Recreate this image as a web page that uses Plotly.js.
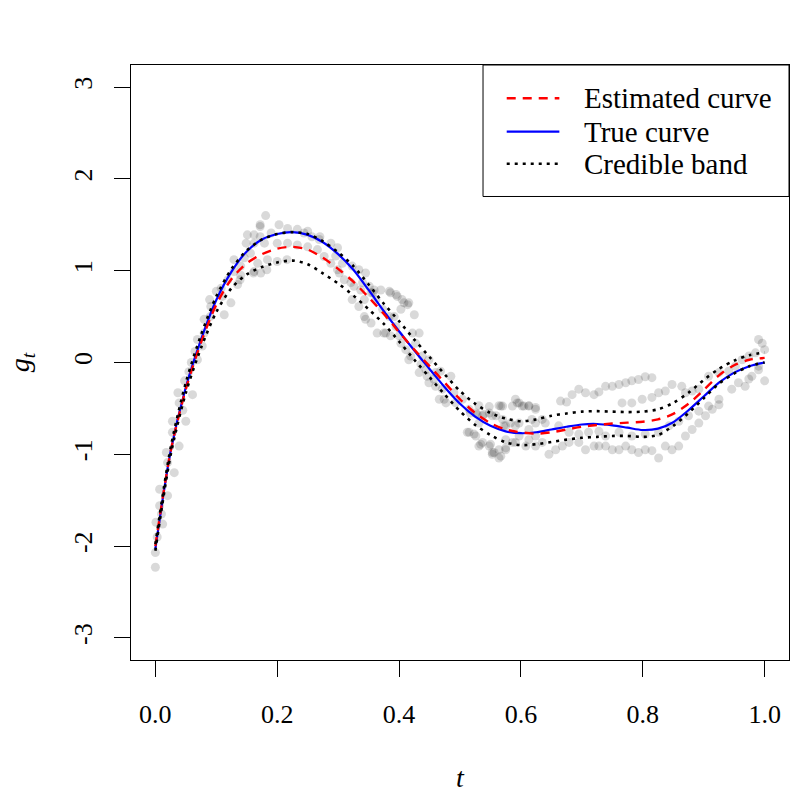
<!DOCTYPE html>
<html>
<head>
<meta charset="utf-8">
<script src="https://cdn.plot.ly/plotly-3.0.1.min.js"></script>
<style>
  body { margin: 0; background: #fff; }
  #chart { width: 793px; height: 793px; }
</style>
</head>
<body>
<div id="chart"></div>
<script>
// grid on which the curves were evaluated
let tGrid = [0, 0.025, 0.05, 0.075, 0.1, 0.125, 0.15, 0.175, 0.2, 0.225,
  0.25, 0.275, 0.3, 0.325, 0.35, 0.375, 0.4, 0.425, 0.45, 0.475,
  0.5, 0.525, 0.55, 0.575, 0.6, 0.625, 0.65, 0.675, 0.7, 0.725,
  0.75, 0.775, 0.8, 0.825, 0.85, 0.875, 0.9, 0.925, 0.95, 0.975, 1];

let trueCurve = [-2.03, -0.97, -0.27, 0.25, 0.68, 0.99, 1.21, 1.34, 1.40, 1.42,
  1.39, 1.31, 1.18, 1.01, 0.79, 0.56, 0.34, 0.13, -0.07, -0.27,
  -0.45, -0.59, -0.69, -0.75, -0.77, -0.76, -0.73, -0.70, -0.675, -0.67,
  -0.685, -0.71, -0.735, -0.72, -0.65, -0.52, -0.37, -0.22, -0.11, -0.04, 0.0];

let estCurve = [-2.0, -0.97, -0.29, 0.22, 0.63, 0.91, 1.08, 1.18, 1.24, 1.26,
  1.23, 1.14, 1.02, 0.88, 0.71, 0.53, 0.33, 0.14, -0.04, -0.22,
  -0.40, -0.55, -0.66, -0.73, -0.76, -0.775, -0.76, -0.73, -0.70, -0.68,
  -0.665, -0.655, -0.645, -0.62, -0.56, -0.45, -0.30, -0.14, -0.03, 0.03, 0.05];

let bandUpper = [-1.98, -0.93, -0.22, 0.30, 0.72, 1.02, 1.22, 1.34, 1.40, 1.42,
  1.40, 1.32, 1.20, 1.05, 0.85, 0.64, 0.45, 0.25, 0.06, -0.13,
  -0.31, -0.45, -0.55, -0.61, -0.64, -0.62, -0.58, -0.555, -0.535, -0.53,
  -0.535, -0.54, -0.535, -0.51, -0.44, -0.33, -0.19, -0.07, 0.02, 0.08, 0.11];

let bandLower = [-2.05, -1.01, -0.33, 0.16, 0.55, 0.81, 0.96, 1.04, 1.09, 1.11,
  1.07, 0.97, 0.86, 0.73, 0.58, 0.42, 0.23, 0.03, -0.16, -0.35,
  -0.53, -0.68, -0.79, -0.87, -0.90, -0.89, -0.865, -0.84, -0.82, -0.81,
  -0.80, -0.80, -0.81, -0.79, -0.69, -0.55, -0.39, -0.23, -0.12, -0.04, 0.0];

// observed points (grey dots)
let obsT = [0, 0, 0.003, 0.001, 0.012, 0.010, 0.007, 0.020, 0.007, 0.031,
  0.020, 0.018, 0.039, 0.028, 0.028, 0.050, 0.045, 0.039, 0.037, 0.061,
  0.048, 0.055, 0.059, 0.069, 0.065, 0.077, 0.069, 0.080, 0.080, 0.090,
  0.113, 0.091, 0.124, 0.089, 0.110, 0.100, 0.108, 0.135, 0.119, 0.139,
  0.140, 0.129, 0.161, 0.140, 0.183, 0.129, 0.146, 0.156, 0.149, 0.151,
  0.162, 0.172, 0.172, 0.181, 0.200, 0.216,
  0.172, 0.190, 0.203, 0.217, 0.233, 0.244, 0.257, 0.269, 0.162, 0.179,
  0.200, 0.217, 0.233, 0.250, 0.266, 0.277, 0.288, 0.299, 0.168, 0.184,
  0.162, 0.173, 0.250, 0.270, 0.288, 0.299, 0.310, 0.321, 0.326, 0.337,
  0.343, 0.354, 0.359, 0.370, 0.386, 0.397, 0.408, 0.403, 0.392, 0.343,
  0.354, 0.364, 0.375, 0.386, 0.403,
  0.296, 0.307, 0.323, 0.334, 0.345, 0.302, 0.340, 0.351, 0.357, 0.384,
  0.395, 0.405, 0.416, 0.425, 0.323, 0.334, 0.345, 0.378, 0.400, 0.362,
  0.373, 0.384, 0.395, 0.422, 0.433, 0.427, 0.411, 0.416, 0.438, 0.449,
  0.444, 0.433, 0.460, 0.449, 0.460, 0.471, 0.466, 0.477, 0.493, 0.504,
  0.515, 0.526, 0.537, 0.548, 0.559, 0.570, 0.570, 0.586, 0.602, 0.613,
  0.624, 0.515, 0.526, 0.537, 0.553, 0.564, 0.575, 0.586, 0.597, 0.613,
  0.624, 0.591, 0.613, 0.624, 0.635, 0.591,
  0.414, 0.419, 0.436, 0.446, 0.457, 0.468, 0.485, 0.490, 0.474, 0.517,
  0.528, 0.539, 0.567, 0.572, 0.583, 0.594, 0.605, 0.512, 0.523, 0.534,
  0.550, 0.556, 0.567, 0.575,
  0.531, 0.548, 0.564, 0.597, 0.613, 0.624, 0.665, 0.675, 0.684, 0.695,
  0.706, 0.720, 0.728, 0.739, 0.750, 0.761, 0.772, 0.782, 0.793, 0.804,
  0.815, 0.766, 0.782, 0.799, 0.815, 0.826, 0.837, 0.848, 0.864, 0.870,
  0.881, 0.892, 0.908, 0.925, 0.941, 0.952, 0.963, 0.974, 0.985, 0.996,
  1.0, 0.990, 0.957, 0.968, 0.979, 0.990, 1.0,
  0.531, 0.548, 0.564, 0.553, 0.575, 0.591, 0.608, 0.624, 0.635, 0.646,
  0.657, 0.668, 0.679, 0.695, 0.706, 0.720, 0.728, 0.739, 0.750, 0.761,
  0.772, 0.782, 0.793, 0.804, 0.815, 0.826, 0.837, 0.848, 0.859, 0.870,
  0.881, 0.892, 0.903, 0.914, 0.925,
  0.679, 0.695, 0.711, 0.728, 0.739, 0.761, 0.782, 0.804, 0.826, 0.843,
  0.859, 0.875, 0.892, 0.908, 0.925, 0.946, 0.974, 0.990, 0.531, 0.553,
  0.575, 0.597, 0.618, 0.640, 0.662];

let obsY = [-2.23, -2.07, -1.90, -1.74, -1.76, -1.65, -1.56, -1.45, -1.38, -1.20,
  -1.09, -0.98, -0.91, -0.76, -0.64, -0.64, -0.52, -0.44, -0.33, -0.35,
  -0.20, -0.10, 0.00, 0.03, 0.12, 0.18, 0.25, 0.32, 0.47, 0.50,
  0.52, 0.61, 0.65, 0.685, 0.72, 0.775, 0.81, 0.85, 0.90, 0.90,
  0.95, 0.99, 0.975, 1.05, 1.01, 1.12, 1.14, 1.19, 1.30, 1.39,
  1.39, 1.37, 1.50, 1.60, 1.10, 1.12,
  1.48, 1.41, 1.50, 1.46, 1.45, 1.41, 1.37, 1.34, 1.30, 1.30,
  1.30, 1.30, 1.28, 1.26, 1.23, 1.155, 1.08, 1.01, 1.08, 1.12,
  0.99, 0.975, 1.43, 1.37, 1.30, 1.25, 0.90, 0.87, 0.83, 0.79,
  0.685, 0.76, 0.79, 0.79, 0.76, 0.72, 0.65, 0.58, 0.50, 0.50,
  0.43, 0.32, 0.32, 0.29, 0.21,
  1.16, 1.08, 1.05, 1.01, 0.975, 0.975, 0.87, 0.83, 0.76, 0.775,
  0.74, 0.685, 0.65, 0.52, 0.685, 0.61, 0.47, 0.32, 0.29, 0.685,
  0.58, 0.50, 0.39, 0.32, 0.32, 0.21, 0.14, 0.03, 0.07, 0.03,
  -0.08, -0.11, -0.11, -0.22, -0.26, -0.29, -0.40, -0.44, -0.44, -0.40,
  -0.51, -0.55, -0.58, -0.55, -0.58, -0.62, -0.475, -0.475, -0.475, -0.475,
  -0.51, -0.76, -0.80, -0.87, -0.98, -1.04, -0.95, -0.87, -0.80, -0.84,
  -0.80, -0.69, -0.73, -0.66, -0.62, -0.40,
  0.63, 0.07, -0.02, -0.15, -0.18, -0.095, -0.15, -0.33, -0.40, -0.55,
  -0.565, -0.565, -0.475, -0.69, -0.66, -0.44, -0.475, -0.76, -0.78, -0.89,
  -0.89, -0.98, -1.02, -0.93,
  -0.47, -0.48, -0.47, -0.44, -0.47, -0.49, -0.42, -0.43, -0.35, -0.29,
  -0.33, -0.35, -0.32, -0.26, -0.26, -0.24, -0.22, -0.20, -0.185, -0.155,
  -0.165, -0.44, -0.44, -0.40, -0.38, -0.33, -0.31, -0.24, -0.26, -0.33,
  -0.31, -0.29, -0.15, -0.11, -0.095, -0.04, 0.03, 0.07, 0.105, 0.21,
  0.14, 0.25, -0.22, -0.26, -0.15, -0.08, -0.20,
  -0.91, -0.91, -0.95, -1.0, -0.84, -0.87, -0.91, -0.91, -0.87, -1.0,
  -0.95, -0.91, -0.87, -0.87, -0.95, -0.91, -0.91, -0.91, -0.95, -0.95,
  -0.91, -0.95, -0.98, -0.95, -0.96, -1.04, -0.91, -0.95, -0.91, -0.80,
  -0.73, -0.66, -0.58, -0.51, -0.46,
  -0.76, -0.78, -0.76, -0.75, -0.80, -0.76, -0.80, -0.78, -0.76, -0.69,
  -0.64, -0.58, -0.53, -0.475, -0.40, -0.29, -0.18, -0.04, -0.66, -0.58,
  -0.69, -0.66, -0.62, -0.66, -0.69];

let xTicks = [0, 0.2, 0.4, 0.6, 0.8, 1];
let xTickText = ['0.0', '0.2', '0.4', '0.6', '0.8', '1.0'];
let yTicks = [-3, -2, -1, 0, 1, 2, 3];
let yTickText = ['-3', '-2', '-1', '0', '1', '2', '3'];

let legendNames = ['Estimated curve', 'True curve', 'Credible band'];

let serif = '"Liberation Serif", "Times New Roman", serif';

let pointsTrace = {
  x: obsT,
  y: obsY,
  mode: 'markers',
  type: 'scatter',
  marker: {size: 9, color: 'rgba(0,0,0,0.15)', line: {width: 0}},
  hoverinfo: 'skip'
};

let trueTrace = {
  x: tGrid, y: trueCurve,
  mode: 'lines', type: 'scatter', name: legendNames[1],
  line: {color: '#0000ff', width: 2.2, shape: 'spline', smoothing: 0.8}
};

let estTrace = {
  x: tGrid, y: estCurve,
  mode: 'lines', type: 'scatter', name: legendNames[0],
  line: {color: '#ff0000', width: 2.4, dash: '9px,7px', shape: 'spline', smoothing: 0.8}
};

let upperTrace = {
  x: tGrid, y: bandUpper,
  mode: 'lines', type: 'scatter', name: legendNames[2],
  line: {color: '#000000', width: 2.6, dash: '3px,5px', shape: 'spline', smoothing: 0.8}
};

let lowerTrace = {
  x: tGrid, y: bandLower,
  mode: 'lines', type: 'scatter', showlegend: false,
  line: {color: '#000000', width: 2.6, dash: '3px,5px', shape: 'spline', smoothing: 0.8}
};

let chartData = [pointsTrace, trueTrace, estTrace, upperTrace, lowerTrace];

// legend drawn by hand so the line samples are as long as R's
let legendRows = [0.944, 0.888, 0.834];
let legendStyles = [
  {color: '#ff0000', width: 2.4, dash: '9px,7px'},
  {color: '#0000ff', width: 2.2, dash: 'solid'},
  {color: '#000000', width: 2.6, dash: '3px,5px'}
];

let shapes = [{
  type: 'rect', xref: 'paper', yref: 'paper',
  x0: 0.535, x1: 1, y0: 0.779, y1: 1,
  line: {color: '#000', width: 1}, fillcolor: '#fff', layer: 'above'
}];
let annotations = [];
legendRows.forEach(function (yy, i) {
  shapes.push({
    type: 'line', xref: 'paper', yref: 'paper',
    x0: 0.571, x1: 0.651, y0: yy, y1: yy,
    line: legendStyles[i], layer: 'above'
  });
  annotations.push({
    xref: 'paper', yref: 'paper', x: 0.686, y: yy,
    xanchor: 'left', yanchor: 'middle', showarrow: false,
    text: legendNames[i], font: {family: serif, size: 29, color: '#000'}
  });
});

annotations.push({
  xref: 'paper', yref: 'paper', x: 0.5, y: -0.197,
  xanchor: 'center', yanchor: 'middle', showarrow: false,
  text: '<i>t</i>', font: {family: serif, size: 28, color: '#000'}
});
annotations.push({
  xref: 'paper', yref: 'paper', x: -0.166, y: 0.5,
  xanchor: 'center', yanchor: 'middle', showarrow: false, textangle: -90,
  text: '<i>g</i><sub><i>t</i></sub>', font: {family: serif, size: 28, color: '#000'}
});

let chartLayout = {
  width: 793,
  height: 793,
  margin: {l: 131, r: 4, t: 65, b: 133},
  paper_bgcolor: '#fff',
  plot_bgcolor: '#fff',
  showlegend: false,
  font: {family: serif, color: '#000'},
  xaxis: {
    range: [-0.04, 1.04],
    tickvals: xTicks, ticktext: xTickText,
    ticks: 'outside', ticklen: 16, tickwidth: 1, tickcolor: '#000',
    ticklabelstandoff: 15,
    showline: true, linecolor: '#000', linewidth: 1, mirror: true,
    showgrid: false, zeroline: false,
    tickfont: {family: serif, size: 26, color: '#000'}
  },
  yaxis: {
    range: [-3.24, 3.24],
    tickvals: yTicks, ticktext: yTickText, tickangle: -90,
    ticks: 'outside', ticklen: 16, tickwidth: 1, tickcolor: '#000',
    ticklabelstandoff: 12,
    showline: true, linecolor: '#000', linewidth: 1, mirror: true,
    showgrid: false, zeroline: false,
    tickfont: {family: serif, size: 26, color: '#000'}
  },
  shapes: shapes,
  annotations: annotations
};

Plotly.newPlot('chart', chartData, chartLayout, {staticPlot: true});
</script>
</body>
</html>
